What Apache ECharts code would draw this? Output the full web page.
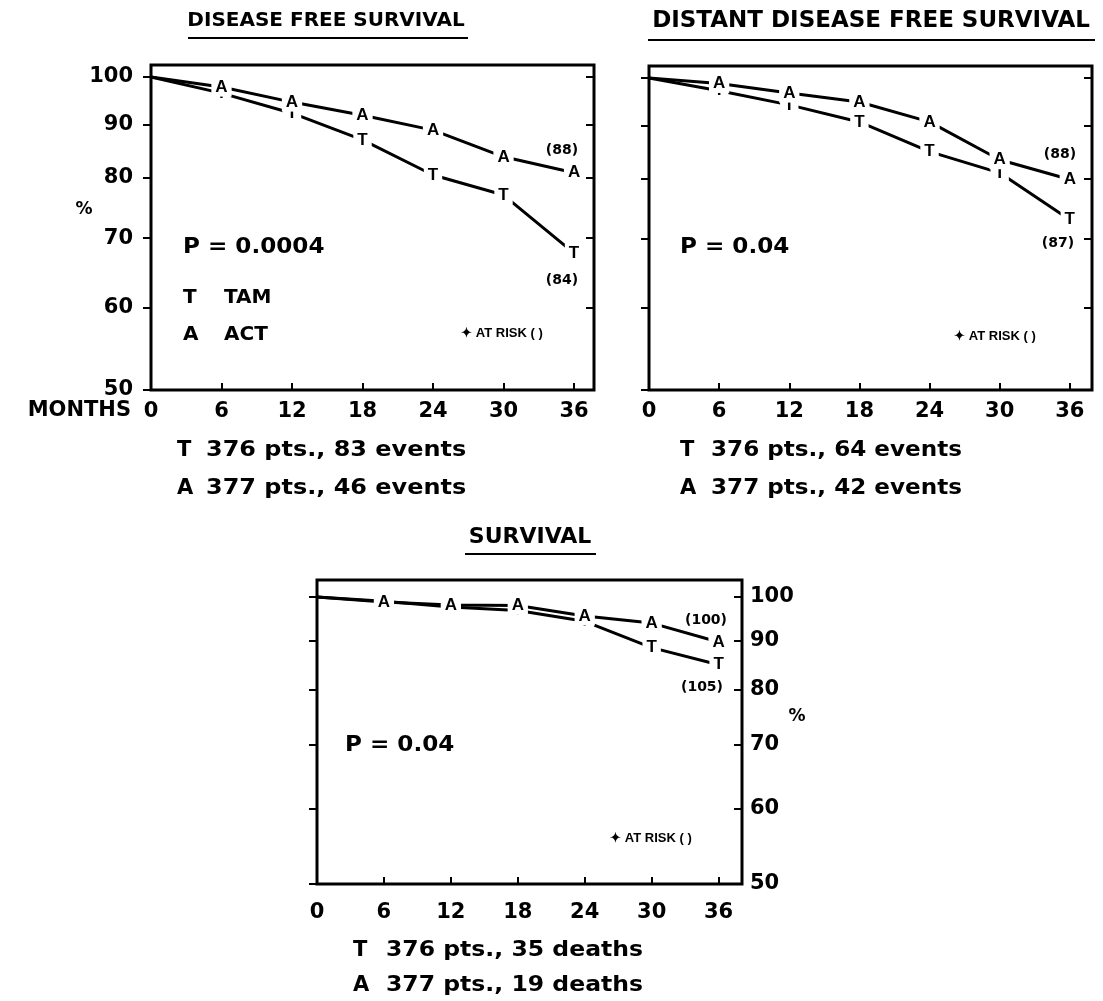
<!DOCTYPE html>
<html>
<head>
<meta charset="utf-8">
<script src="https://cdn.jsdelivr.net/npm/echarts@6/dist/echarts.min.js"></script>
<style>
  html, body { margin: 0; background: #fff; }
  #main { width: 1103px; height: 1001px; }
</style>
</head>
<body>
<div id="main"></div>
<script>
// months of follow-up
const months = [0, 6, 12, 18, 24, 30, 36];
// disease free survival (%)
const dfsTam = [100, 96.5, 92.3, 87.0, 80.5, 77.0, 67.7];
const dfsAct = [100, 97.8, 94.6, 91.9, 88.9, 83.8, 80.9];
// distant disease free survival (%)
const ddfsTam = [100, 97.2, 94.2, 90.7, 84.9, 81.0, 73.0];
const ddfsAct = [100, 98.8, 96.7, 94.8, 90.7, 83.4, 79.8];
// overall survival (%)
const osTam = [100, 99.0, 97.6, 96.8, 94.3, 88.5, 84.9];
const osAct = [100, 98.8, 98.1, 98.0, 95.5, 93.9, 89.7];
// ticks
const xTicks = [0, 6, 12, 18, 24, 30, 36];
const yTicks = [50, 60, 70, 80, 90, 100];

const FONT = 'DejaVu Sans';
const chart = echarts.init(document.getElementById('main'));

const grids = [
  { left: 151, top: 65, width: 443, height: 325 },
  { left: 649, top: 66, width: 443, height: 324 },
  { left: 317, top: 580, width: 425, height: 304 }
];
const xMax = [37.7, 37.9, 38.1];
const yMax = [102.7, 102.7, 104.2];
// which side carries the tick labels
const labelSide = ['left', 'none', 'right'];

const log = v => Math.log10(v);

const xAxes = grids.map((g, i) => ({
  gridIndex: i,
  type: 'value',
  min: 0,
  max: xMax[i],
  axisLine: { show: false },
  splitLine: { show: false },
  axisTick: {
    inside: true,
    length: 7,
    customValues: xTicks.slice(1),
    lineStyle: { color: '#000', width: 2 }
  },
  axisLabel: {
    customValues: xTicks,
    margin: i === 2 ? 18 : 11,
    color: '#000',
    fontSize: 21,
    fontWeight: 'bold',
    fontFamily: FONT
  }
}));

const yAxes = [];
grids.forEach((g, i) => {
  ['left', 'right'].forEach(pos => {
    const withLabels = pos === labelSide[i];
    yAxes.push({
      gridIndex: i,
      type: 'value',
      position: pos,
      min: log(50),
      max: log(yMax[i]),
      axisLine: { show: false },
      splitLine: { show: false },
      axisTick: {
        show: true,
        inside: pos === 'right',
        length: 8,
        customValues: yTicks.map(log),
        lineStyle: { color: '#000', width: 2 }
      },
      axisLabel: {
        show: withLabels,
        customValues: yTicks.map(log),
        formatter: v => String(Math.round(Math.pow(10, v))),
        margin: pos === 'left' ? 18 : 8,
        color: '#000',
        fontSize: 21,
        fontWeight: 'bold',
        fontFamily: FONT
      }
    });
  });
});

function curve(name, letter, values, gi) {
  return {
    type: 'line',
    name: name,
    xAxisIndex: gi,
    yAxisIndex: gi * 2,
    data: months.map((m, k) => ({ value: [m, log(values[k])], label: { show: k > 0 } })),
    symbol: 'circle',
    symbolSize: 2,
    itemStyle: { color: 'rgba(0,0,0,0)' },
    lineStyle: { color: '#000', width: 3 },
    label: {
      show: true,
      position: 'inside',
      formatter: letter,
      color: '#000',
      fontSize: 17,
      fontWeight: 'bold',
      fontFamily: 'Liberation Sans',
      backgroundColor: '#fff',
      padding: [1, 4]
    },
    emphasis: { disabled: true },
    silent: true
  };
}

function txt(text, x, y, size, align, family, sx) {
  return {
    type: 'text',
    x: x,
    y: y,
    scaleX: sx || 1,
    style: {
      text: text,
      fill: '#000',
      fontSize: size,
      fontWeight: 'bold',
      fontFamily: family || FONT,
      textAlign: align || 'left',
      align: align || 'left',
      textVerticalAlign: 'middle',
      verticalAlign: 'middle'
    }
  };
}
function rule(x1, x2, y) {
  return { type: 'line', shape: { x1: x1, y1: y, x2: x2, y2: y }, style: { stroke: '#000', lineWidth: 2 } };
}

const graphic = [
  // titles
  txt('DISEASE FREE SURVIVAL', 326, 21, 20, 'center'),
  rule(188, 468, 38),
  txt('DISTANT DISEASE FREE SURVIVAL', 871, 21, 23, 'center'),
  rule(648, 1095, 40),
  txt('SURVIVAL', 530, 537, 22, 'center'),
  rule(465, 596, 554),
  // axis captions
  txt('MONTHS', 131, 411, 21, 'right'),
  txt('%', 84, 210, 17, 'center'),
  txt('%', 797, 717, 17, 'center'),
  // DFS panel
  txt('P = 0.0004', 183, 247, 22, 'left', FONT, 1.05),
  txt('T', 183, 298, 20), txt('TAM', 224, 298, 20),
  txt('A', 183, 335, 20), txt('ACT', 224, 335, 20),
  txt('(88)', 562, 150, 14, 'center'),
  txt('(84)', 562, 280, 14, 'center'),
  txt('\u2726 AT RISK ( )', 502, 333, 13, 'center', 'Liberation Sans'),
  txt('T', 177, 451, 21), txt('376 pts., 83 events', 206, 451, 21, 'left', FONT, 1.14),
  txt('A', 177, 489, 21), txt('377 pts., 46 events', 206, 489, 21, 'left', FONT, 1.14),
  // DDFS panel
  txt('P = 0.04', 680, 247, 22, 'left', FONT, 1.05),
  txt('(88)', 1060, 154, 14, 'center'),
  txt('(87)', 1058, 243, 14, 'center'),
  txt('\u2726 AT RISK ( )', 995, 336, 13, 'center', 'Liberation Sans'),
  txt('T', 680, 451, 21), txt('376 pts., 64 events', 711, 451, 21, 'left', FONT, 1.1),
  txt('A', 680, 489, 21), txt('377 pts., 42 events', 711, 489, 21, 'left', FONT, 1.1),
  // OS panel
  txt('P = 0.04', 345, 745, 22, 'left', FONT, 1.05),
  txt('(100)', 706, 620, 14, 'center'),
  txt('(105)', 702, 687, 14, 'center'),
  txt('\u2726 AT RISK ( )', 651, 838, 13, 'center', 'Liberation Sans'),
  txt('T', 353, 951, 21), txt('376 pts., 35 deaths', 386, 951, 21, 'left', FONT, 1.12),
  txt('A', 353, 986, 21), txt('377 pts., 19 deaths', 386, 986, 21, 'left', FONT, 1.12)
];

const options = {
  animation: false,
  backgroundColor: '#fff',
  grid: grids.map(g => Object.assign({ show: true, borderColor: '#000', borderWidth: 3, backgroundColor: '#fff' }, g)),
  xAxis: xAxes,
  yAxis: yAxes,
  // TAM first so the ACT letters sit on top where the curves meet
  series: [
    curve('DFS TAM', 'T', dfsTam, 0),
    curve('DFS ACT', 'A', dfsAct, 0),
    curve('DDFS TAM', 'T', ddfsTam, 1),
    curve('DDFS ACT', 'A', ddfsAct, 1),
    curve('OS TAM', 'T', osTam, 2),
    curve('OS ACT', 'A', osAct, 2)
  ],
  graphic: graphic
};
chart.setOption(options);
</script>
</body>
</html>
